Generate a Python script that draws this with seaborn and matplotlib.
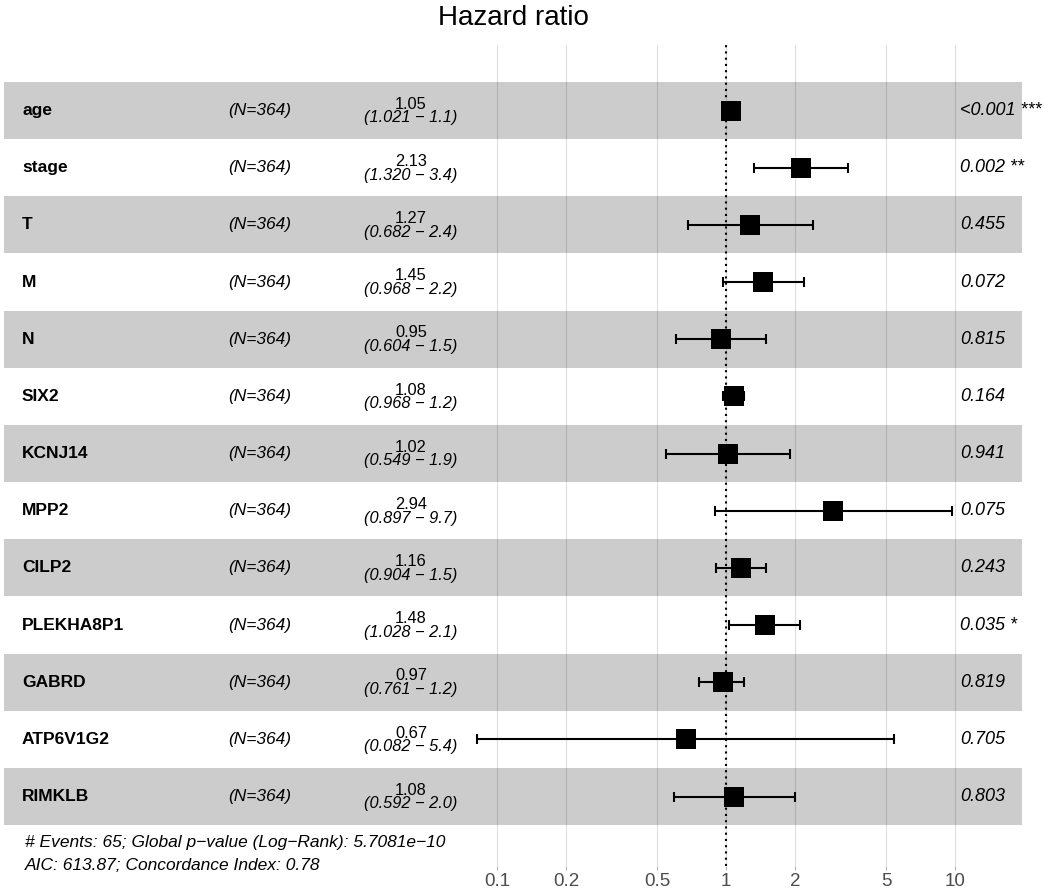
import numpy as np
import pandas as pd
import seaborn as sns
import matplotlib.pyplot as plt
from matplotlib.ticker import NullLocator

# valores (modelo de Cox)
variaveis = ['age', 'stage', 'T', 'M', 'N', 'SIX2', 'KCNJ14', 'MPP2', 'CILP2',
             'PLEKHA8P1', 'GABRD', 'ATP6V1G2', 'RIMKLB']
n_obs = [364] * 13
hr = [1.05, 2.13, 1.27, 1.45, 0.95, 1.08, 1.02, 2.94, 1.16, 1.48, 0.97, 0.67, 1.08]
ic_inf = [1.021, 1.320, 0.682, 0.968, 0.604, 0.968, 0.549, 0.897, 0.904, 1.028, 0.761, 0.082, 0.592]
ic_sup = [1.1, 3.4, 2.4, 2.2, 1.5, 1.2, 1.9, 9.7, 1.5, 2.1, 1.2, 5.4, 2.0]
p_valores = ['<0.001 ***', '0.002 **', '0.455', '0.072', '0.815', '0.164', '0.941',
             '0.075', '0.243', '0.035 *', '0.819', '0.705', '0.803']
ticks = [0.1, 0.2, 0.5, 1, 2, 5, 10]
rodape = ['# Events: 65; Global p\u2212value (Log\u2212Rank): 5.7081e\u221210',
          'AIC: 613.87; Concordance Index: 0.78']

df = pd.DataFrame({'var': variaveis, 'hr': hr, 'lo': ic_inf, 'hi': ic_sup,
                   'pos': np.arange(1, len(variaveis) + 1)})

sns.set_theme(style='white')
plt.rcParams['font.family'] = ['Liberation Sans', 'DejaVu Sans']
plt.rcParams['text.color'] = 'black'

W, H = 1052, 893
fig = plt.figure(figsize=(W / 100, H / 100), dpi=100)
ax = fig.add_axes([4 / W, (H - 866) / H, (1022 - 4) / W, (866 - 45) / H])

# faixas alternadas
for i in df['pos']:
    if i % 2 == 1:
        ax.axhspan(i - 0.5, i + 0.5, color='black', alpha=0.2, lw=0, zorder=1)

for t in ticks:
    ax.axvline(t, color='#dedede', lw=0.8, zorder=0)
ax.axvline(1, color='black', lw=1.5, ls=(0, (1, 2)), zorder=2)

ax.errorbar(df['hr'], df['pos'], xerr=[df['hr'] - df['lo'], df['hi'] - df['hr']],
            fmt='none', ecolor='black', elinewidth=1.5, capsize=3.8, capthick=1.5, zorder=3)
sns.scatterplot(data=df, x='hr', y='pos', marker='s', s=14.5 ** 2, color='black',
                edgecolor='black', linewidth=0, zorder=4, ax=ax, legend=False)

ax.set_xscale('log')
ax.set_xlim(10 ** -3.153, 10 ** 1.2926)
ax.set_ylim(14.215, -0.146)
ax.set_xticks(ticks)
ax.set_xticklabels([f'{t:g}' for t in ticks])
ax.xaxis.set_minor_locator(NullLocator())
ax.tick_params(axis='x', length=3, width=0.8, color='#b3b3b3', labelsize=13.5,
               labelcolor='#4d4d4d', pad=2, bottom=True)
ax.set_yticks([])
ax.set_xlabel('')
ax.set_ylabel('')
for s in ax.spines.values():
    s.set_visible(False)

tr = ax.get_yaxis_transform()
for _, r in df.iterrows():
    y = r['pos']
    ax.text(0.0177, y, r['var'], transform=tr, ha='left', va='center',
            fontsize=12.5, fontweight='bold')
    ax.text(0.220, y, f'(N={n_obs[y - 1]})', transform=tr, ha='left', va='center',
            fontsize=12.5, style='italic')
    ax.text(0.3998, y - 0.11, f"{r['hr']:.2f}", transform=tr, ha='center', va='center',
            fontsize=11.8)
    ax.text(0.3998, y + 0.13, f"({r['lo']:.3f} \u2212 {r['hi']:.1f})", transform=tr,
            ha='center', va='center', fontsize=11.8, style='italic')
    ax.text(0.939, y, p_valores[y - 1], transform=tr, ha='left', va='center',
            fontsize=13, style='italic', clip_on=False)

ax.text(0.0206, 13.81, rodape[0], transform=tr, ha='left', va='center',
        fontsize=12.5, style='italic')
ax.text(0.0206, 14.20, rodape[1], transform=tr, ha='left', va='center',
        fontsize=12.5, style='italic', clip_on=False)

fig.text(513 / W, 1 - 18 / H, 'Hazard ratio', ha='center', va='center', fontsize=20)

fig.savefig('out.png', dpi=100)
